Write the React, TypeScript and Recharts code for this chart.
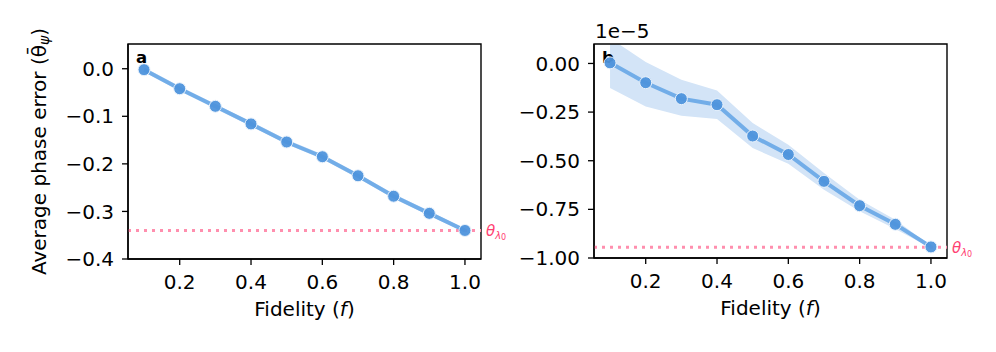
// @ts-nocheck
import { ComposedChart, Line, Area, XAxis, YAxis, ReferenceLine, ReferenceArea } from "recharts";

const FIDELITY = [0.1, 0.2, 0.3, 0.4, 0.5, 0.6, 0.7, 0.8, 0.9, 1.0];

// panel a
const A_MEAN = [-0.002, -0.042, -0.079, -0.116, -0.154, -0.185, -0.225, -0.268, -0.304, -0.340];
const A_LO = [-0.007, -0.047, -0.084, -0.121, -0.159, -0.190, -0.230, -0.273, -0.309, -0.344];
const A_HI = [0.003, -0.037, -0.074, -0.111, -0.149, -0.180, -0.220, -0.263, -0.299, -0.336];
const A_THETA = -0.340;
const A_YTICKS = [0, -0.1, -0.2, -0.3, -0.4];

// panel b (units of 1e-5)
const B_MEAN = [0.003, -0.099, -0.181, -0.212, -0.373, -0.468, -0.606, -0.731, -0.827, -0.943];
const B_LO = [-0.126, -0.221, -0.269, -0.286, -0.435, -0.515, -0.649, -0.760, -0.851, -0.948];
const B_HI = [0.13, 0.008, -0.084, -0.139, -0.306, -0.418, -0.563, -0.700, -0.803, -0.938];
const B_THETA = -0.945;
const B_YTICKS = [0, -0.25, -0.5, -0.75, -1.0];

const X_TICKS = [0.2, 0.4, 0.6, 0.8, 1.0];

const FONT = "DejaVu Sans";
const FS = 20;
const LINE = "#72ade8";
const DOT = "#4e94dc";
const BAND = "#d3e4f7";
const PINK = "#ff8fae";
const PINK_TXT = "#ff3f72";

const build = (mean, lo, hi) =>
  FIDELITY.map((f, i) => ({ f, mean: mean[i], band: [lo[i], hi[i]] }));

const fmt = (digits) => (v: number) => (v < -1e-9 ? "\u2212" : "") + Math.abs(v).toFixed(digits);

function ThetaLabel(props) {
  const vb = props.viewBox || {};
  const x = vb.x + vb.width + 5;
  const y = vb.y + 6;
  return (
    <text x={x} y={y} fill={PINK_TXT} fontFamily={FONT} fontSize={15} fontStyle="italic">
      θ<tspan fontSize={10} dy={3}>λ</tspan><tspan fontSize={8} dy={1} fontStyle="normal">0</tspan>
    </text>
  );
}

function Panel({ data, yDomain, yTicks, digits, theta, letter, width, margin, yWidth, showYLabel, offsetText }) {
  return (
    <ComposedChart width={width} height={352} data={data} margin={margin}>
      <XAxis
        type="number"
        dataKey="f"
        domain={[0.055, 1.045]}
        ticks={X_TICKS}
        allowDataOverflow
        tickFormatter={(v) => v.toFixed(1)}
        height={40}
        tickSize={6}
        tickMargin={10}
        axisLine={{ stroke: "#000", strokeWidth: 1.4 }}
        tickLine={{ stroke: "#000", strokeWidth: 1.3 }}
        tick={{ fill: "#000", fontSize: FS, fontFamily: FONT }}
        label={(p) => {
          const vb = p.viewBox;
          return (
            <text x={vb.x + vb.width / 2} y={vb.y + 57} textAnchor="middle" fontFamily={FONT} fontSize={FS} fill="#000">
              Fidelity (<tspan fontStyle="italic">f</tspan>)
            </text>
          );
        }}
      />
      <YAxis
        type="number"
        domain={yDomain}
        ticks={yTicks}
        allowDataOverflow
        tickFormatter={fmt(digits)}
        width={yWidth}
        tickSize={6}
        tickMargin={8}
        axisLine={{ stroke: "#000", strokeWidth: 1.4 }}
        tickLine={{ stroke: "#000", strokeWidth: 1.3 }}
        tick={{ fill: "#000", fontSize: FS, fontFamily: FONT }}
        label={(p) => {
          const vb = p.viewBox;
          if (showYLabel) {
            const cx = vb.x + vb.width - 89;
            const cy = vb.y + vb.height / 2;
            return (
              <text x={cx} y={cy} transform={`rotate(-90 ${cx} ${cy})`} textAnchor="middle" dominantBaseline="central" fontFamily={FONT} fontSize={FS} fill="#000">
                Average phase error (θ̄<tspan fontSize={14} dy={5} fontStyle="italic">ψ</tspan><tspan dy={-5}>)</tspan>
              </text>
            );
          }
          if (offsetText) {
            return (
              <text x={vb.x + vb.width + 1} y={vb.y - 6} fontFamily={FONT} fontSize={FS} fill="#000">
                {offsetText}
              </text>
            );
          }
          return null;
        }}
      />
      <Area dataKey="band" stroke="none" fill={BAND} fillOpacity={1} isAnimationActive={false} />
      <ReferenceLine y={theta} stroke={PINK} strokeWidth={3} strokeDasharray="3 5" label={(p) => <ThetaLabel {...p} />} />
      <Line
        dataKey="mean"
        stroke={LINE}
        strokeWidth={4}
        dot={{ r: 6, fill: DOT, stroke: "#e9f2fc", strokeWidth: 1, fillOpacity: 0.95 }}
        activeDot={false}
        isAnimationActive={false}
      />
      <ReferenceArea
        x1={0.055}
        x2={1.045}
        y1={yDomain[0]}
        y2={yDomain[1]}
        ifOverflow="visible"
        fill="none"
        stroke="#000"
        strokeWidth={1.4}
        label={(p) => {
          const vb = p.viewBox;
          return (
            <text x={vb.x + 8} y={vb.y + 19} fontFamily={FONT} fontWeight="bold" fontSize={16.5} fill="#000">
              {letter}
            </text>
          );
        }}
      />
    </ComposedChart>
  );
}

export default function App() {
  const dataA = build(A_MEAN, A_LO, A_HI);
  const dataB = build(B_MEAN, B_LO, B_HI);
  return (
    <div style={{ position: "absolute", left: 0, top: 0, width: 996, height: 352, background: "#fff" }}>
      <div style={{ position: "absolute", left: 0, top: 0 }}>
        <Panel
          data={dataA}
          yDomain={[-0.4, 0.052]}
          yTicks={A_YTICKS}
          digits={1}
          theta={A_THETA}
          letter="a"
          width={525}
          margin={{ top: 44, right: 44, left: 28, bottom: 53 }}
          yWidth={100}
          showYLabel
        />
      </div>
      <div style={{ position: "absolute", left: 500, top: 0 }}>
        <Panel
          data={dataB}
          yDomain={[-1.0, 0.1]}
          yTicks={B_YTICKS}
          digits={2}
          theta={B_THETA}
          letter="b"
          width={496}
          margin={{ top: 44, right: 49, left: 14, bottom: 54 }}
          yWidth={80}
          offsetText={"1e\u22125"}
        />
      </div>
    </div>
  );
}
